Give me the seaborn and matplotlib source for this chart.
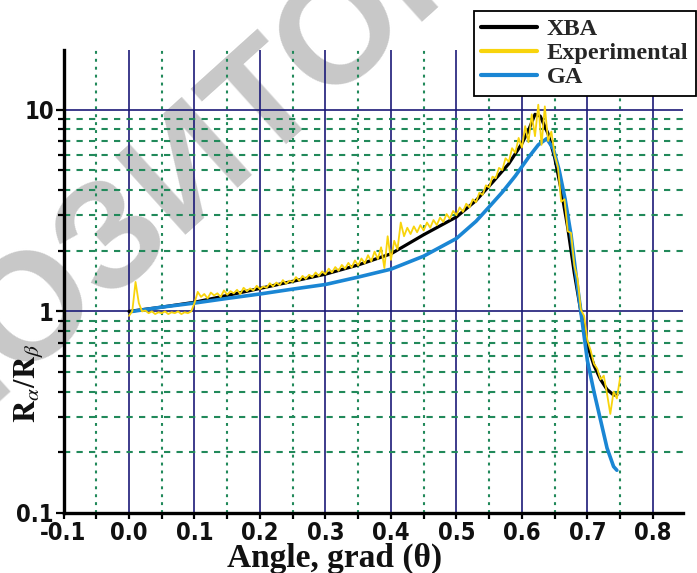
import numpy as np
import pandas as pd
import seaborn as sns
import matplotlib
matplotlib.use("Agg")
import matplotlib.pyplot as plt
from matplotlib import font_manager as fm
from matplotlib.ticker import FixedLocator, FixedFormatter, NullFormatter

# ---------------- data ----------------
xba_x = [0.00, 0.05, 0.10, 0.15, 0.20, 0.25, 0.30, 0.35, 0.40, 0.45, 0.50, 0.53,
         0.556, 0.58, 0.60, 0.61, 0.62, 0.628, 0.64, 0.65, 0.66, 0.67, 0.68, 0.69,
         0.70, 0.71, 0.72, 0.73, 0.74, 0.745]
xba_y = [1.00, 1.05, 1.11, 1.20, 1.30, 1.41, 1.53, 1.70, 1.93, 2.40, 2.94, 3.55,
         4.40, 5.40, 6.80, 7.90, 9.50, 9.30, 7.60, 5.80, 4.00, 2.60, 1.55, 1.00,
         0.68, 0.54, 0.46, 0.41, 0.385, 0.385]

ga_x = [0.005, 0.05, 0.10, 0.15, 0.20, 0.25, 0.30, 0.35, 0.40, 0.45, 0.50, 0.53,
        0.55, 0.57, 0.59, 0.61, 0.625, 0.638, 0.648, 0.657, 0.666, 0.675, 0.684,
        0.69, 0.70, 0.71, 0.72, 0.73, 0.74, 0.745]
ga_y = [1.00, 1.05, 1.10, 1.16, 1.22, 1.29, 1.36, 1.48, 1.62, 1.88, 2.30, 2.80,
        3.30, 3.90, 4.70, 5.80, 6.70, 7.20, 6.40, 5.00, 3.60, 2.40, 1.40,
        1.00, 0.57, 0.40, 0.29, 0.21, 0.17, 0.163]

exp_x = [0.000, 0.005, 0.010, 0.015, 0.020, 0.025, 0.030, 0.035, 0.040, 0.045,
         0.050, 0.055, 0.060, 0.065, 0.070, 0.075, 0.080, 0.085, 0.090, 0.095,
         0.100, 0.105, 0.110, 0.115, 0.120, 0.125, 0.130, 0.135, 0.140, 0.145,
         0.150, 0.155, 0.160, 0.165, 0.170, 0.175, 0.180, 0.185, 0.190, 0.195,
         0.200, 0.205, 0.210, 0.215, 0.220, 0.225, 0.230, 0.235, 0.240, 0.245,
         0.250, 0.255, 0.260, 0.265, 0.270, 0.275, 0.280, 0.285, 0.290, 0.295,
         0.300, 0.305, 0.310, 0.315, 0.320, 0.325, 0.330, 0.335, 0.340, 0.345,
         0.350, 0.355, 0.360, 0.365, 0.370, 0.375, 0.380, 0.385, 0.390, 0.395,
         0.400, 0.405, 0.410, 0.415, 0.420, 0.425, 0.430, 0.435, 0.440, 0.445,
         0.450, 0.455, 0.460, 0.465, 0.470, 0.475, 0.480, 0.485, 0.490, 0.495,
         0.500, 0.505, 0.510, 0.515, 0.520, 0.525, 0.530, 0.535, 0.540, 0.545,
         0.550, 0.555, 0.560, 0.565, 0.570, 0.575, 0.580, 0.585, 0.590, 0.595,
         0.600, 0.605, 0.610, 0.615, 0.620, 0.625, 0.630, 0.635, 0.640, 0.645,
         0.650, 0.655, 0.660, 0.665, 0.670, 0.675, 0.680, 0.685, 0.690, 0.695,
         0.700, 0.705, 0.710, 0.715, 0.720, 0.725, 0.730, 0.735, 0.740, 0.745,
         0.750]
exp_y = [0.95, 1.00, 1.40, 1.10, 1.00, 1.01, 0.98, 1.00, 0.97, 0.99,
         0.98, 1.00, 0.97, 0.99, 0.98, 1.00, 0.97, 0.99, 0.98, 1.00,
         1.10, 1.25, 1.18, 1.22, 1.16, 1.24, 1.20, 1.23, 1.18, 1.27,
         1.21, 1.26, 1.23, 1.28, 1.22, 1.31, 1.26, 1.30, 1.27, 1.34,
         1.29, 1.33, 1.31, 1.38, 1.33, 1.39, 1.35, 1.43, 1.37, 1.42,
         1.40, 1.48, 1.42, 1.50, 1.45, 1.52, 1.48, 1.56, 1.50, 1.58,
         1.53, 1.63, 1.56, 1.66, 1.59, 1.70, 1.63, 1.74, 1.65, 1.79,
         1.69, 1.83, 1.73, 1.90, 1.77, 1.98, 1.82, 2.08, 1.64, 2.36,
         1.80, 2.24, 2.03, 2.76, 2.36, 2.60, 2.42, 2.64, 2.47, 2.68,
         2.52, 2.76, 2.60, 2.84, 2.68, 2.92, 2.78, 3.04, 2.88, 3.15,
         3.00, 3.28, 3.12, 3.42, 3.28, 3.60, 3.48, 3.88, 3.78, 4.22,
         4.12, 4.66, 4.58, 5.15, 5.02, 5.75, 5.52, 6.45, 6.12, 7.25,
         6.50, 8.30, 6.90, 9.50, 7.40, 10.6, 6.70, 10.4, 7.00, 7.80,
         6.00, 5.20, 3.50, 3.60, 2.50, 2.45, 1.70, 1.45, 1.02, 0.95,
         0.72, 0.64, 0.55, 0.52, 0.46, 0.48, 0.39, 0.31, 0.40, 0.37,
         0.47]

x_ticks = [-0.1, 0.0, 0.1, 0.2, 0.3, 0.4, 0.5, 0.6, 0.7, 0.8]
x_tick_labels = ["-0.1", "0.0", "0.1", "0.2", "0.3", "0.4", "0.5", "0.6", "0.7", "0.8"]
x_minor = [-0.05, 0.05, 0.15, 0.25, 0.35, 0.45, 0.55, 0.65, 0.75]
y_ticks = [0.1, 1, 10]
y_tick_labels = ["0.1", "1", "10"]
y_minor = [0.2, 0.3, 0.4, 0.5, 0.6, 0.7, 0.8, 0.9, 2, 3, 4, 5, 6, 7, 8, 9]

# ---------------- style ----------------
sns.set_theme(style="white")
plt.rcParams["font.family"] = ["Liberation Sans", "DejaVu Sans"]
plt.rcParams["mathtext.fontset"] = "stix"

# find a condensed bold sans for the tick labels if one is installed
tick_fp = None
for f in fm.fontManager.ttflist:
    fn = f.fname.lower()
    if ("narrow" in fn or "condensed" in fn) and "bold" in fn and "oblique" not in fn and "italic" not in fn and "mono" not in fn and "serif" not in fn:
        tick_fp = fm.FontProperties(fname=f.fname, size=17)
        break
if tick_fp is None:
    tick_fp = fm.FontProperties(family=["Liberation Sans", "DejaVu Sans"], weight="bold", size=16)

NAVY = "#1c1a78"
GREEN = "#21895a"
BLUE = "#1a86d4"
YELLOW = "#f8d40c"

fig = plt.figure(figsize=(6.97, 5.73), dpi=100)
ax = fig.add_axes([63.5 / 697, 60 / 573, 619.5 / 697, 463 / 573])
ax.set_facecolor("none")

# watermark (behind everything)
fig.text(192 / 697, 1 - 168 / 573, "РЕПОЗИТОРИЙ", rotation=42, fontsize=110,
         color="#c8c8c8", family="Liberation Sans", weight="bold",
         ha="center", va="center", rotation_mode="anchor", zorder=-5)

df_xba = pd.DataFrame({"x": xba_x, "y": xba_y})
df_ga = pd.DataFrame({"x": ga_x, "y": ga_y})
df_exp = pd.DataFrame({"x": exp_x, "y": exp_y})

sns.lineplot(data=df_xba, x="x", y="y", ax=ax, color="black", lw=2.3,
             label="XBA", estimator=None, sort=False, zorder=3)
sns.lineplot(data=df_exp, x="x", y="y", ax=ax, color=YELLOW, lw=1.3,
             label="Experimental", estimator=None, sort=False, zorder=5)
sns.lineplot(data=df_ga, x="x", y="y", ax=ax, color=BLUE, lw=2.6,
             label="GA", estimator=None, sort=False, zorder=4)

ax.set_yscale("log")
ax.set_xlim(-0.1, 0.846)
ax.set_ylim(0.1, 19.8)

ax.xaxis.set_major_locator(FixedLocator(x_ticks))
ax.xaxis.set_major_formatter(FixedFormatter(x_tick_labels))
ax.xaxis.set_minor_locator(FixedLocator(x_minor))
ax.xaxis.set_minor_formatter(NullFormatter())
ax.yaxis.set_major_locator(FixedLocator(y_ticks))
ax.yaxis.set_major_formatter(FixedFormatter(y_tick_labels))
ax.yaxis.set_minor_locator(FixedLocator(y_minor))
ax.yaxis.set_minor_formatter(NullFormatter())

ax.set_axisbelow(True)
ax.grid(which="major", color=NAVY, lw=1.2, ls="-", zorder=1)
ax.grid(which="minor", axis="y", color=GREEN, lw=1.5, ls=(0, (3, 3)), zorder=1)
ax.grid(which="minor", axis="x", color=GREEN, lw=1.5, ls=(0, (1.4, 2.4)), zorder=1)

for s in ["top", "right"]:
    ax.spines[s].set_visible(False)
for s in ["left", "bottom"]:
    ax.spines[s].set_color("black")
    ax.spines[s].set_linewidth(2.4)
    ax.spines[s].set_zorder(6)

ax.tick_params(which="both", left=True, bottom=True, direction="out",
               color="black", width=1.6)
ax.tick_params(axis="y", which="major", length=6, pad=1)
ax.tick_params(axis="y", which="minor", length=4.5)
ax.tick_params(axis="x", which="both", length=4.5, pad=1.5)
for lab in ax.get_xticklabels() + ax.get_yticklabels():
    lab.set_fontproperties(tick_fp)
    lab.set_color("#111111")

ax.set_xlabel("Angle, grad (θ)", family=["Liberation Serif", "DejaVu Serif"],
              weight="bold", fontsize=24, color="#111111")
ax.xaxis.set_label_coords(0.437, -0.1166)
ax.xaxis.label.set_va("baseline")

ax.set_ylabel(r"$\mathbf{R}_{\alpha}/\mathbf{R}_{\beta}$", fontsize=22, color="#111111")
ax.yaxis.set_label_coords(-0.056, 0.28)
ax.yaxis.label.set_va("center")

leg = ax.legend(loc="upper left", bbox_to_anchor=(474 / 697, 1 - 11 / 573),
                bbox_transform=fig.transFigure, frameon=True, fancybox=False,
                edgecolor="black", facecolor="white", framealpha=1,
                prop=dict(family=["Liberation Serif", "DejaVu Serif"], weight="bold", size=17.5),
                handlelength=2.3, handletextpad=0.4, labelspacing=0.08,
                borderpad=0.3, borderaxespad=0)
leg.get_frame().set_linewidth(1.3)
leg.set_zorder(10)
for h in leg.get_lines():
    h.set_linewidth(3)

fig.savefig("out.png", dpi=100)
